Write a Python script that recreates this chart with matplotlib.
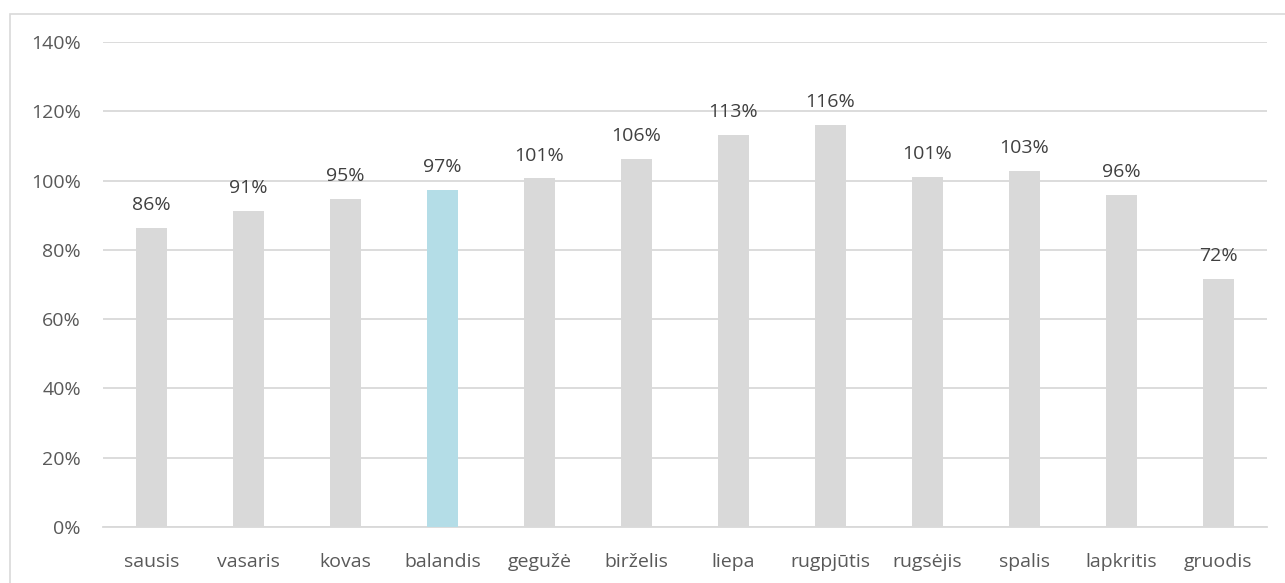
import matplotlib
matplotlib.use('Agg')
import matplotlib.pyplot as plt
from matplotlib.patches import Rectangle
from matplotlib.ticker import FuncFormatter

# months and values (in %)
months = ['sausis', 'vasaris', 'kovas', 'balandis', 'gegužė', 'birželis',
          'liepa', 'rugpjūtis', 'rugsėjis', 'spalis', 'lapkritis', 'gruodis']
values = [86.3, 91.2, 94.7, 97.3, 100.6, 106.2, 113.2, 116.1, 101.1, 102.7, 95.8, 71.6]
highlight = 'balandis'

plt.rcParams['font.family'] = ['Open Sans', 'DejaVu Sans']
txt = '#595959'
grid = '#D9D9D9'

fig = plt.figure(figsize=(12.85, 5.83), dpi=100)
ax = fig.add_axes([103/1285, 56/583, 1164/1285, 485/583])

colors = ['#B4DDE7' if m == highlight else '#D9D9D9' for m in months]
x = range(len(months))
bars = ax.bar(x, values, width=0.31, color=colors, zorder=3)

for b, v in zip(bars, values):
    ax.annotate('%d%%' % int(v + 0.5), (b.get_x() + b.get_width()/2, v),
                xytext=(0, 10), textcoords='offset points',
                ha='center', va='bottom', fontsize=14, color='#404040')

ax.set_xlim(-0.5, len(months) - 0.5)
ax.set_ylim(0, 140)
ax.set_yticks(range(0, 141, 20))
ax.yaxis.set_major_formatter(FuncFormatter(lambda v, p: '%d%%' % v))
ax.set_xticks(list(x))
ax.set_xticklabels(months)
ax.tick_params(axis='both', length=0, labelsize=14, colors=txt)
ax.tick_params(axis='y', pad=16)
ax.tick_params(axis='x', pad=19)
ax.grid(axis='y', color=grid, linewidth=1.3, zorder=0)
for s in ['top', 'right', 'left']:
    ax.spines[s].set_visible(False)
ax.spines['bottom'].set_color(grid)
ax.spines['bottom'].set_linewidth(1.3)

# outer chart border (right/bottom edges fall outside the image)
fig.patches.append(Rectangle((9.5/1285, -10/583), 1300/1285, 579/583,
                             transform=fig.transFigure, fill=False,
                             edgecolor='#D9D9D9', linewidth=1.2))

plt.savefig('out.png', dpi=100)
